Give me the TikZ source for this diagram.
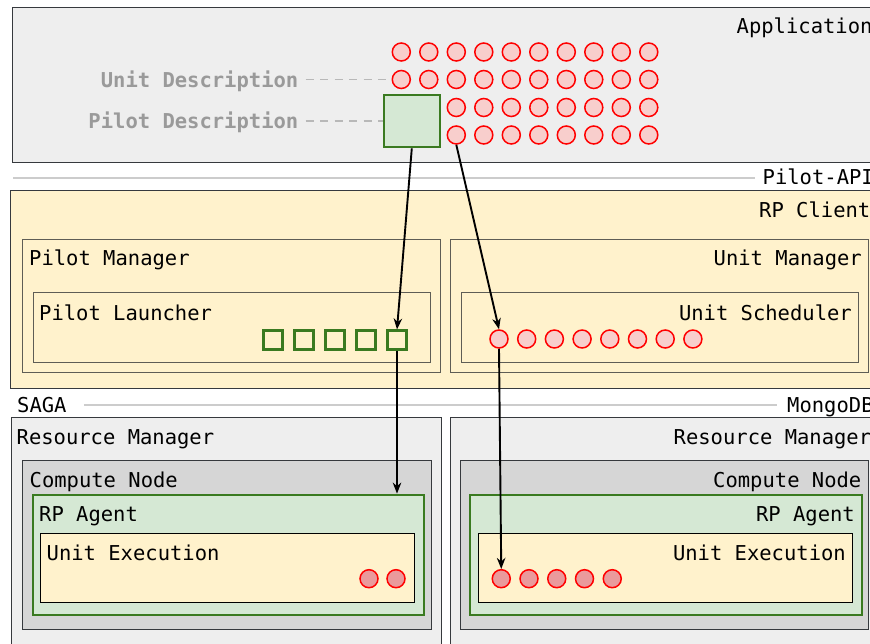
\documentclass[tikz,border=0pt]{standalone}
\usepackage{fontspec}
\setmonofont{DejaVu Sans Mono}
\usetikzlibrary{arrows.meta,fit}

\definecolor{appgray}{HTML}{EEEEEE}
\definecolor{clientyellow}{HTML}{FFF2CC}
\definecolor{nodegray}{HTML}{D6D6D6}
\definecolor{agentgreen}{HTML}{D5E8D4}
\definecolor{agentline}{HTML}{3A7A20}
\definecolor{unitfill}{HTML}{F8CECC}
\definecolor{unitrun}{HTML}{EA9A9C}
\definecolor{busgray}{HTML}{CCCCCC}
\definecolor{desctext}{HTML}{9A9A9A}
\definecolor{frame}{HTML}{36393D}
\definecolor{innerframe}{HTML}{5E5D55}

\tikzset{
  txt/.style={font=\ttfamily\fontsize{20.5}{24}\selectfont, inner sep=0pt},
  desc/.style={font=\ttfamily\bfseries\fontsize{20.5}{24}\selectfont, inner sep=0pt, text=desctext},
  region/.style={fit={#1}, inner sep=0pt, draw=frame, line width=0.9pt},
  inbox/.style={fit={#1}, inner sep=0pt, draw=innerframe, line width=0.9pt},
  unit/.style={circle, draw=red, fill=unitfill, line width=1.5pt, minimum size=18pt, inner sep=0pt},
  unitgo/.style={unit, fill=unitrun},
  pilotbox/.style={rectangle, draw=agentline, line width=2.2pt, minimum size=19pt, inner sep=0pt, fill=clientyellow},
  flow/.style={-{Stealth[length=11pt,width=8.5pt,inset=3.5pt]}, line width=1.9pt, black},
  bus/.style={draw=busgray, line width=2.2pt},
  descline/.style={draw=busgray!90!black, line width=1.4pt, dash pattern=on 8pt off 6.5pt},
}

\begin{document}
\begin{tikzpicture}[x=1pt, y=-1pt]
\useasboundingbox (0,0) rectangle (870,644);
\clip (0,0) rectangle (870,644);

% ---------------- Application layer ----------------
\node[region={(12,7.5) (900,162.5)}, fill=appgray] (app) {};
\node[txt, anchor=base west] (apptxt) at (736.5,33.5) {Application};

% unit descriptions (4 rows)
\foreach \r/\y in {1/52, 2/79.5} {
  \foreach \i in {0,...,9}
    \node[unit] (u\r-\i) at (401.3+27.5*\i, \y) {};
}
\foreach \r/\y in {3/107.5, 4/135} {
  \foreach \i in {2,...,9}
    \node[unit] (u\r-\i) at (401.3+27.5*\i, \y) {};
}
% pilot description
\node[rectangle, draw=agentline, fill=agentgreen, line width=2pt,
      minimum width=55.5pt, minimum height=52.6pt, inner sep=0pt] (pd) at (411.8,121) {};

\node[desc, anchor=base east] (udesc) at (298.5,87.3) {Unit Description};
\node[desc, anchor=base east] (pdesc) at (298.5,129) {Pilot Description};
\draw[descline] ([xshift=7pt]udesc.east |- u2-0.west) -- (u2-0.west);
\draw[descline] ([xshift=7pt]pdesc.east |- pd.west) -- (pd.west);

% ---------------- Pilot-API ----------------
\node[txt, anchor=base west] (api) at (762.5,185) {Pilot-API};
\coordinate (apistart) at (13,177.7);
\draw[bus] (apistart) -- ([xshift=-7.5pt]api.west |- apistart);

% ---------------- RP Client ----------------
\node[region={(10.5,190.5) (900,388)}, fill=clientyellow] (client) {};
\node[txt, anchor=base west] (clienttxt) at (759,217.7) {RP Client};

\node[inbox={(22.3,239.3) (440.7,372.7)}] (pmgr) {};
\node[txt, anchor=base west] at (29,265.7) {Pilot Manager};
\node[inbox={(33,292.7) (430,362)}] (plaunch) {};
\node[txt, anchor=base west] at (39,320) {Pilot Launcher};
\foreach \i in {1,...,5}
  \node[pilotbox] (sq\i) at (242+31*\i, 340) {};

\node[inbox={(450.7,239.3) (868,372.7)}] (umgr) {};
\node[txt, anchor=base east] at (862,265.7) {Unit Manager};
\node[inbox={(461.7,292.7) (858,362)}] (usched) {};
\node[txt, anchor=base east] at (852,320) {Unit Scheduler};
\foreach \i in {1,...,8}
  \node[unit] (us\i) at (471.3+27.7*\i, 339) {};

% ---------------- SAGA / MongoDB ----------------
\node[txt, anchor=base west] (saga) at (17,412.7) {SAGA};
\node[txt, anchor=base west] (mongo) at (787,412.7) {MongoDB};
\draw[bus] ([xshift=17pt]saga.east) -- ([xshift=-10pt]mongo.west |- saga.east);

% ---------------- Resources (left) ----------------
\node[region={(11,417.3) (441.7,660)}, fill=appgray] (rmL) {};
\node[txt, anchor=base west] at (16.5,444.3) {Resource Manager};
\node[region={(22.7,460) (431.7,629)}, fill=nodegray] (cnL) {};
\node[txt, anchor=base west] at (29.5,487.3) {Compute Node};
\node[fit={(32.7,494.7) (424.3,614.7)}, inner sep=0pt, draw=agentline, line width=2.2pt, fill=agentgreen] (agentL) {};
\node[txt, anchor=base west] at (39,521.7) {RP Agent};
\node[fit={(40.3,533.3) (414.7,602.3)}, inner sep=0pt, draw=black, line width=0.9pt, fill=clientyellow] (execL) {};
\node[txt, anchor=base west] at (46.5,560) {Unit Execution};
\node[unitgo] (el1) at (369,578.7) {};
\node[unitgo] (el2) at (396,578.7) {};

% ---------------- Resources (right) ----------------
\node[region={(450,417.3) (900,660)}, fill=appgray] (rmR) {};
\node[txt, anchor=base west] at (673.5,444.3) {Resource Manager};
\node[region={(460.3,460) (868.7,629)}, fill=nodegray] (cnR) {};
\node[txt, anchor=base east] at (861.5,487.3) {Compute Node};
\node[fit={(470.3,494.7) (862.3,614.7)}, inner sep=0pt, draw=agentline, line width=2.2pt, fill=agentgreen] (agentR) {};
\node[txt, anchor=base east] at (855,521.7) {RP Agent};
\node[fit={(478.3,533.3) (852,602.3)}, inner sep=0pt, draw=black, line width=0.9pt, fill=clientyellow] (execR) {};
\node[txt, anchor=base east] at (846,560) {Unit Execution};
\foreach \i in {1,...,5}
  \node[unitgo] (ex\i) at (473.5+27.75*\i, 578.7) {};

% ---------------- Flow of pilots and units ----------------
\draw[flow] (pd.south) -- (sq5.north);
\draw[flow] (sq5.south) -- (sq5.south |- agentL.north);
\draw[flow] (u4-2.south) -- (us1.north);
\draw[flow] (us1.south) -- (ex1.north);
\end{tikzpicture}
\end{document}
